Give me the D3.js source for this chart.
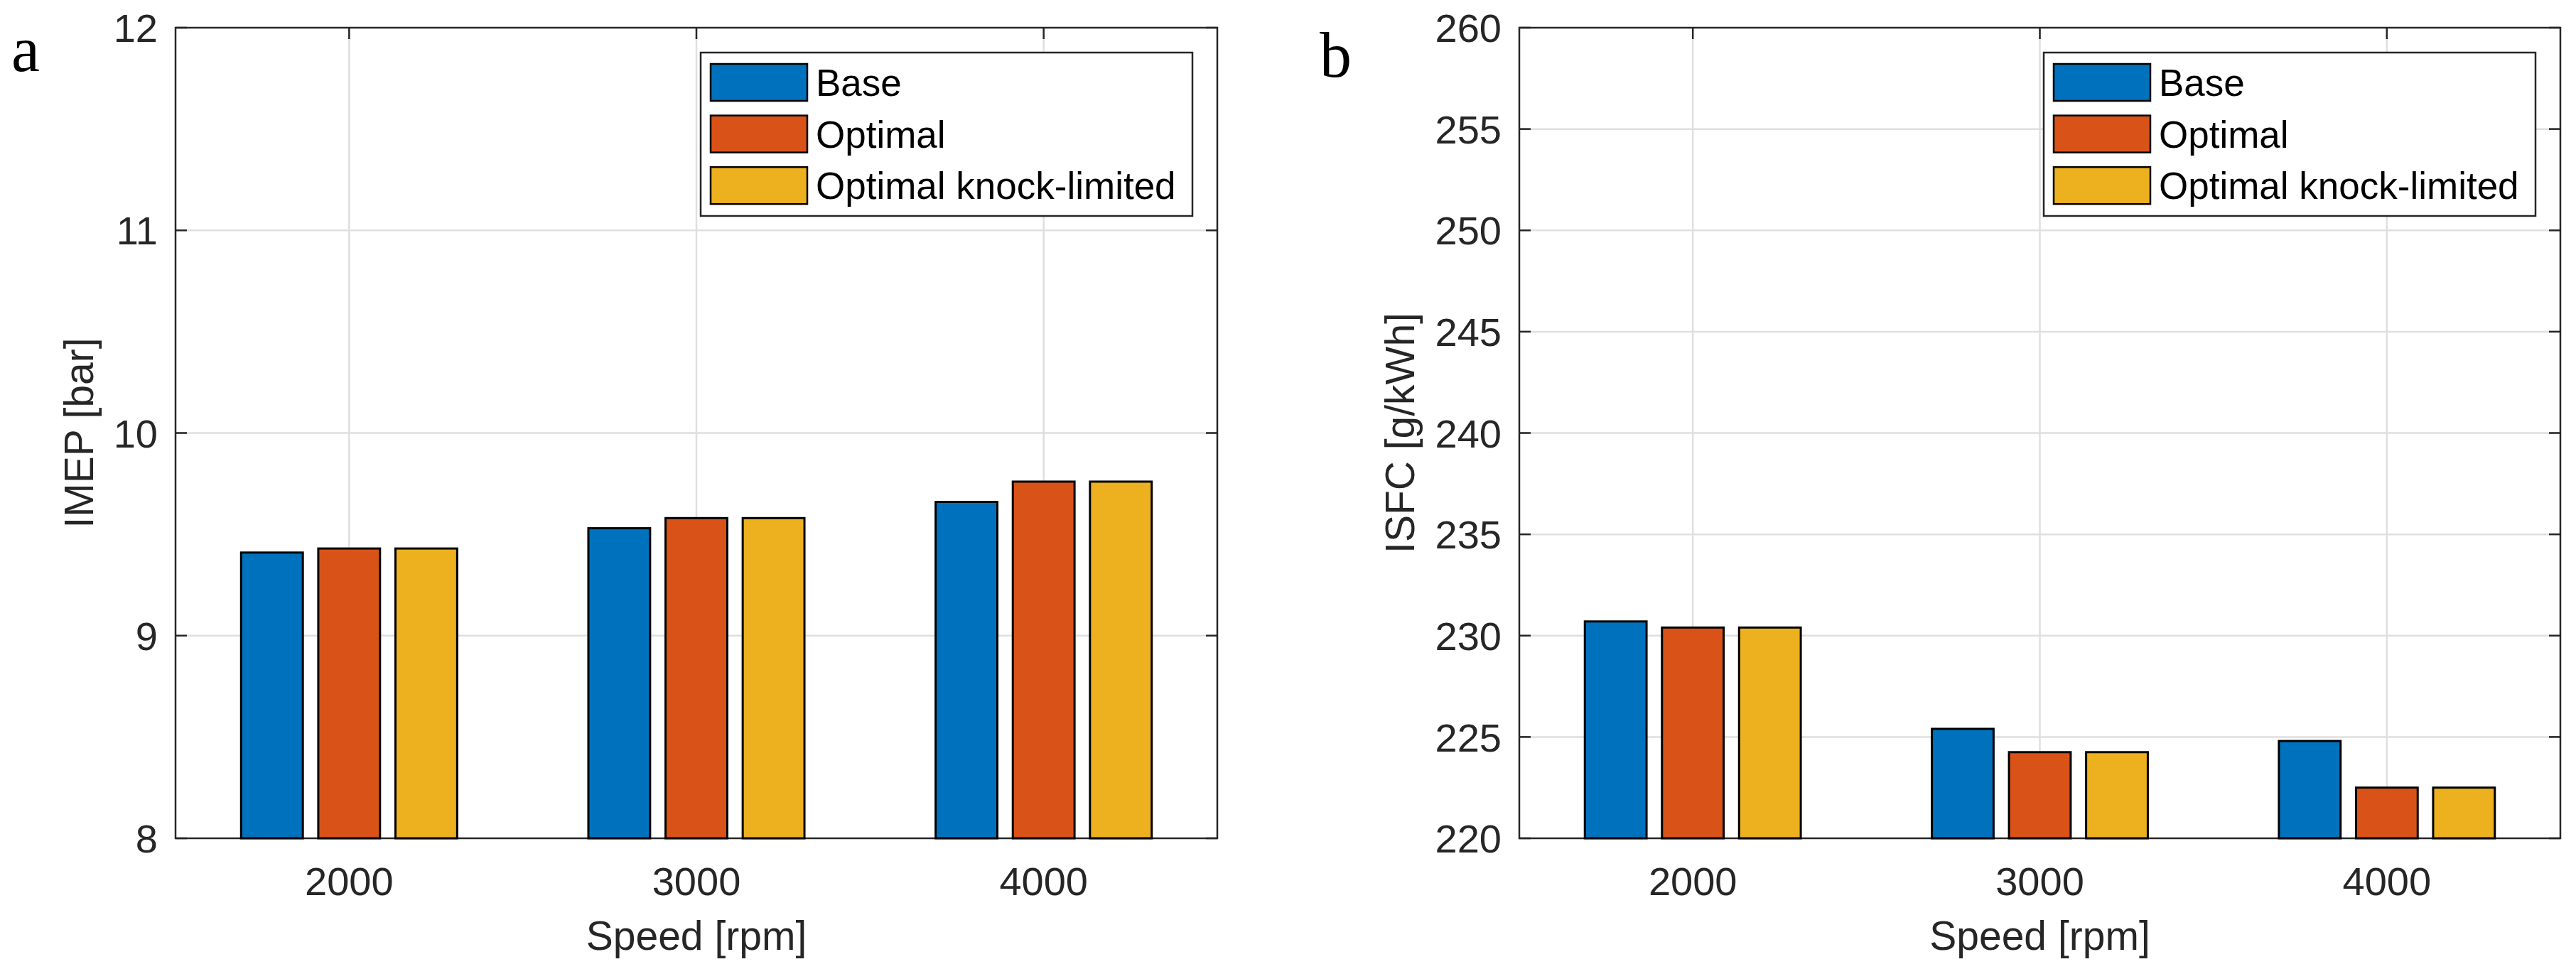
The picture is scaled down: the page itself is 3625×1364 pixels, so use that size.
<!DOCTYPE html>
<html>
<head>
<meta charset="utf-8">
<script src="https://cdn.jsdelivr.net/npm/d3@7"></script>
<style>
    body { margin: 0; background: #fff; }
    svg { display: block; }
</style>
</head>
<body>
<svg id="chart"></svg>
<script>
const width = 3625;
const height = 1364;

const speeds = [2000, 3000, 4000];
const seriesNames = ["Base", "Optimal", "Optimal knock-limited"];
const seriesColors = ["#0072BD", "#D95319", "#EDB120"];

// IMEP [bar], one array per series
const imepBase = [9.41, 9.53, 9.66];
const imepOptimal = [9.43, 9.58, 9.76];
const imepKnock = [9.43, 9.58, 9.76];
const imepTicks = [8, 9, 10, 11, 12];

// ISFC [g/kWh]
const isfcBase = [230.7, 225.4, 224.8];
const isfcOptimal = [230.4, 224.25, 222.5];
const isfcKnock = [230.4, 224.25, 222.5];
const isfcTicks = [220, 225, 230, 235, 240, 245, 250, 255, 260];

const panels = [
    { tag: "a", yLabel: "IMEP [bar]", series: [imepBase, imepOptimal, imepKnock], ticks: imepTicks,
      left: 247, right: 1713, yLabGap: 116, tagX: 16, tagY: 100 },
    { tag: "b", yLabel: "ISFC [g/kWh]", series: [isfcBase, isfcOptimal, isfcKnock], ticks: isfcTicks,
      left: 2138, right: 3603, yLabGap: 148, tagX: 1857, tagY: 108 }
];

const plotTop = 39;
const plotBottom = 1180;
const axisColor = "#262626";
const sans = "'Liberation Sans', Arial, sans-serif";

const svg = d3.select("#chart").attr("width", width).attr("height", height);

function drawPanel(p) {
    const g = svg.append("g");

    const x = d3.scaleLinear().domain([1500, 4500]).range([p.left, p.right]);
    const y = d3.scaleLinear().domain(d3.extent(p.ticks)).range([plotBottom, plotTop]);

    // matlab grouped bar: 3 slots inside 2/3 of the category spacing, bars 80% of the slot
    const slot = d3.scaleBand().domain(seriesNames).range([-1000 / 3, 1000 / 3]).paddingInner(0.2).paddingOuter(0.1);

    // grid
    g.selectAll(".hgrid").data(p.ticks.slice(1, -1)).enter().append("line")
        .attr("x1", p.left).attr("x2", p.right).attr("y1", d => y(d)).attr("y2", d => y(d))
        .attr("stroke", "#dfdfdf").attr("stroke-width", 2.5);
    g.selectAll(".vgrid").data(speeds).enter().append("line")
        .attr("x1", d => x(d)).attr("x2", d => x(d)).attr("y1", plotTop).attr("y2", plotBottom)
        .attr("stroke", "#dfdfdf").attr("stroke-width", 2.5);

    // inner ticks
    const tk = 16;
    g.selectAll(".ytickL").data(p.ticks).enter().append("line")
        .attr("x1", p.left).attr("x2", p.left + tk).attr("y1", d => y(d)).attr("y2", d => y(d))
        .attr("stroke", axisColor).attr("stroke-width", 2.5);
    g.selectAll(".ytickR").data(p.ticks).enter().append("line")
        .attr("x1", p.right - tk).attr("x2", p.right).attr("y1", d => y(d)).attr("y2", d => y(d))
        .attr("stroke", axisColor).attr("stroke-width", 2.5);
    g.selectAll(".xtickT").data(speeds).enter().append("line")
        .attr("x1", d => x(d)).attr("x2", d => x(d)).attr("y1", plotTop).attr("y2", plotTop + tk)
        .attr("stroke", axisColor).attr("stroke-width", 2.5);
    g.selectAll(".xtickB").data(speeds).enter().append("line")
        .attr("x1", d => x(d)).attr("x2", d => x(d)).attr("y1", plotBottom - tk).attr("y2", plotBottom)
        .attr("stroke", axisColor).attr("stroke-width", 2.5);

    // frame
    g.append("rect").attr("x", p.left).attr("y", plotTop).attr("width", p.right - p.left).attr("height", plotBottom - plotTop)
        .attr("fill", "none").attr("stroke", axisColor).attr("stroke-width", 2.5);

    // bars
    p.series.forEach((vals, si) => {
        g.selectAll(".bar" + si).data(vals).enter().append("rect")
            .attr("x", (d, i) => x(speeds[i] + slot(seriesNames[si])))
            .attr("width", x(slot.bandwidth()) - x(0))
            .attr("y", d => y(d))
            .attr("height", d => plotBottom - y(d))
            .attr("fill", seriesColors[si])
            .attr("stroke", "#000").attr("stroke-width", 3);
    });

    // tick labels
    g.selectAll(".ylab").data(p.ticks).enter().append("text")
        .attr("x", p.left - 25).attr("y", d => y(d)).attr("dy", "0.36em")
        .attr("text-anchor", "end").attr("font-family", sans).attr("font-size", 56).attr("fill", axisColor)
        .text(d => d);
    g.selectAll(".xlab").data(speeds).enter().append("text")
        .attr("x", d => x(d)).attr("y", 1260)
        .attr("text-anchor", "middle").attr("font-family", sans).attr("font-size", 56).attr("fill", axisColor)
        .text(d => d);

    // axis titles
    g.append("text").attr("x", (p.left + p.right) / 2).attr("y", 1337)
        .attr("text-anchor", "middle").attr("font-family", sans).attr("font-size", 57).attr("fill", axisColor)
        .text("Speed [rpm]");
    g.append("text")
        .attr("transform", `translate(${p.left - p.yLabGap}, ${(plotTop + plotBottom) / 2}) rotate(-90)`)
        .attr("text-anchor", "middle").attr("font-family", sans).attr("font-size", 57).attr("fill", axisColor)
        .text(p.yLabel);

    // panel tag
    g.append("text").attr("x", p.tagX).attr("y", p.tagY)
        .attr("font-family", "'Liberation Serif', 'Times New Roman', serif").attr("font-size", 90).attr("fill", "#000")
        .text(p.tag);

    // legend
    const lx = p.right - 35 - 692;
    const ly = plotTop + 35;
    const legend = g.append("g").attr("transform", `translate(${lx}, ${ly})`);
    legend.append("rect").attr("width", 692).attr("height", 230)
        .attr("fill", "#fff").attr("stroke", axisColor).attr("stroke-width", 2.5);
    legend.selectAll(".sw").data(seriesNames).enter().append("rect")
        .attr("x", 14).attr("y", (d, i) => 16 + i * 72.6).attr("width", 136).attr("height", 52)
        .attr("fill", (d, i) => seriesColors[i]).attr("stroke", "#000").attr("stroke-width", 2.5);
    legend.selectAll(".lt").data(seriesNames).enter().append("text")
        .attr("x", 162).attr("y", (d, i) => 16 + 26 + i * 72.6).attr("dy", "0.36em")
        .attr("font-family", sans).attr("font-size", 53).attr("fill", "#000")
        .text(d => d);
}

panels.forEach(drawPanel);
</script>
</body>
</html>
